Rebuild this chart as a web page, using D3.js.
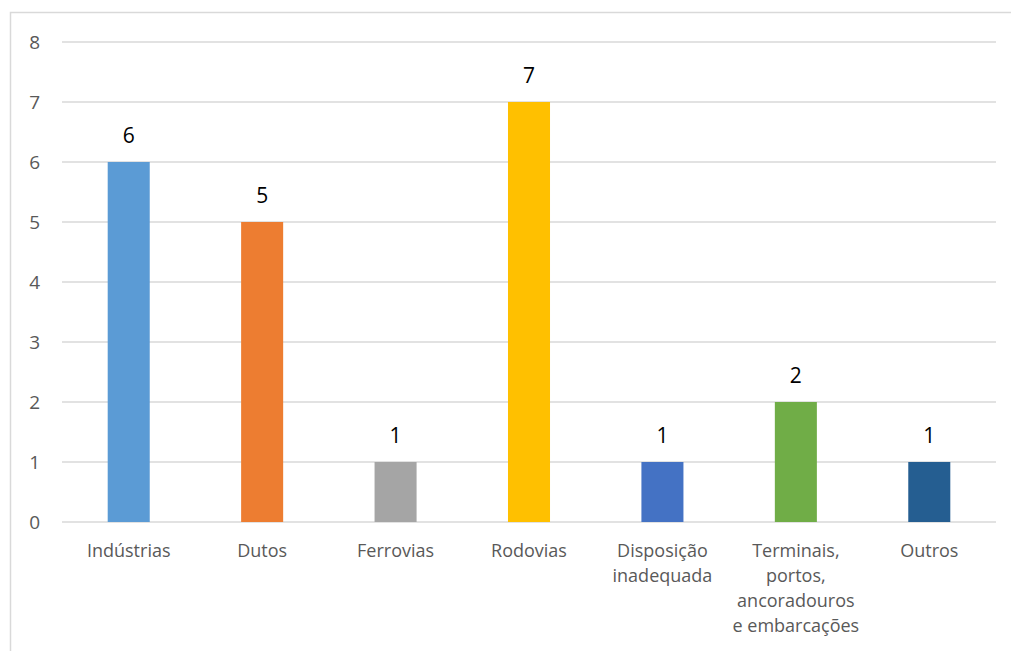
<!DOCTYPE html>
<html>
<head>
<meta charset="utf-8">
<script src="https://cdn.jsdelivr.net/npm/d3@7"></script>
<style>
  html, body { margin: 0; padding: 0; background: #fff; }
  svg { display: block; font-family: "Open Sans", "Noto Sans", sans-serif; }
</style>
</head>
<body>
<svg id="chart" width="1011" height="651"></svg>
<script>
const categories = [
  ["Indústrias"],
  ["Dutos"],
  ["Ferrovias"],
  ["Rodovias"],
  ["Disposição", "inadequada"],
  ["Terminais,", "portos,", "ancoradouros", "e embarcações"],
  ["Outros"]
];
const values = [6, 5, 1, 7, 1, 2, 1];
const colors = ["#5b9bd5", "#ed7d31", "#a5a5a5", "#ffc000", "#4472c4", "#70ad47", "#255e91"];
const yTicks = [0, 1, 2, 3, 4, 5, 6, 7, 8];

const svg = d3.select("#chart");
const W = 1011, H = 651;
const plotLeft = 62, plotRight = 996, plotTop = 42, plotBottom = 522;

// outer chart frame
svg.append("rect")
  .attr("x", 10.5).attr("y", 12.5)
  .attr("width", W + 20).attr("height", H + 20)
  .attr("fill", "none").attr("stroke", "#d9d9d9").attr("stroke-width", 1.5);

const keys = categories.map((c, i) => i);
const x = d3.scaleBand().domain(keys).range([plotLeft, plotRight]).paddingInner(0.685).paddingOuter(0.3425);
const y = d3.scaleLinear().domain([0, 8]).range([plotBottom, plotTop]);

// horizontal gridlines
svg.append("g")
  .selectAll("line")
  .data(yTicks)
  .join("line")
  .attr("x1", plotLeft).attr("x2", plotRight)
  .attr("y1", d => y(d)).attr("y2", d => y(d))
  .attr("stroke", "#d9d9d9").attr("stroke-width", 1.5);

// y-axis tick labels
svg.append("g")
  .selectAll("text")
  .data(yTicks)
  .join("text")
  .attr("x", 40).attr("y", d => y(d))
  .attr("dy", "0.36em")
  .attr("text-anchor", "end")
  .attr("font-size", 19)
  .attr("fill", "#595959")
  .text(d => d);

// bars
svg.append("g")
  .selectAll("rect")
  .data(values)
  .join("rect")
  .attr("x", (d, i) => x(i))
  .attr("width", x.bandwidth())
  .attr("y", d => y(d))
  .attr("height", d => y(0) - y(d))
  .attr("fill", (d, i) => colors[i]);

// value labels
svg.append("g")
  .selectAll("text")
  .data(values)
  .join("text")
  .attr("x", (d, i) => x(i) + x.bandwidth() / 2)
  .attr("y", d => y(d) - 19)
  .attr("text-anchor", "middle")
  .attr("font-size", 21)
  .attr("fill", "#000")
  .text(d => d);

// category labels
const cat = svg.append("g")
  .selectAll("text")
  .data(categories)
  .join("text")
  .attr("x", (d, i) => x(i) + x.bandwidth() / 2)
  .attr("y", 557)
  .attr("text-anchor", "middle")
  .attr("font-size", 18)
  .attr("fill", "#595959");
cat.each(function (lines, i) {
  d3.select(this).selectAll("tspan")
    .data(lines)
    .join("tspan")
    .attr("x", x(i) + x.bandwidth() / 2)
    .attr("dy", (d, j) => j === 0 ? 0 : 25)
    .text(d => d);
});
</script>
</body>
</html>
